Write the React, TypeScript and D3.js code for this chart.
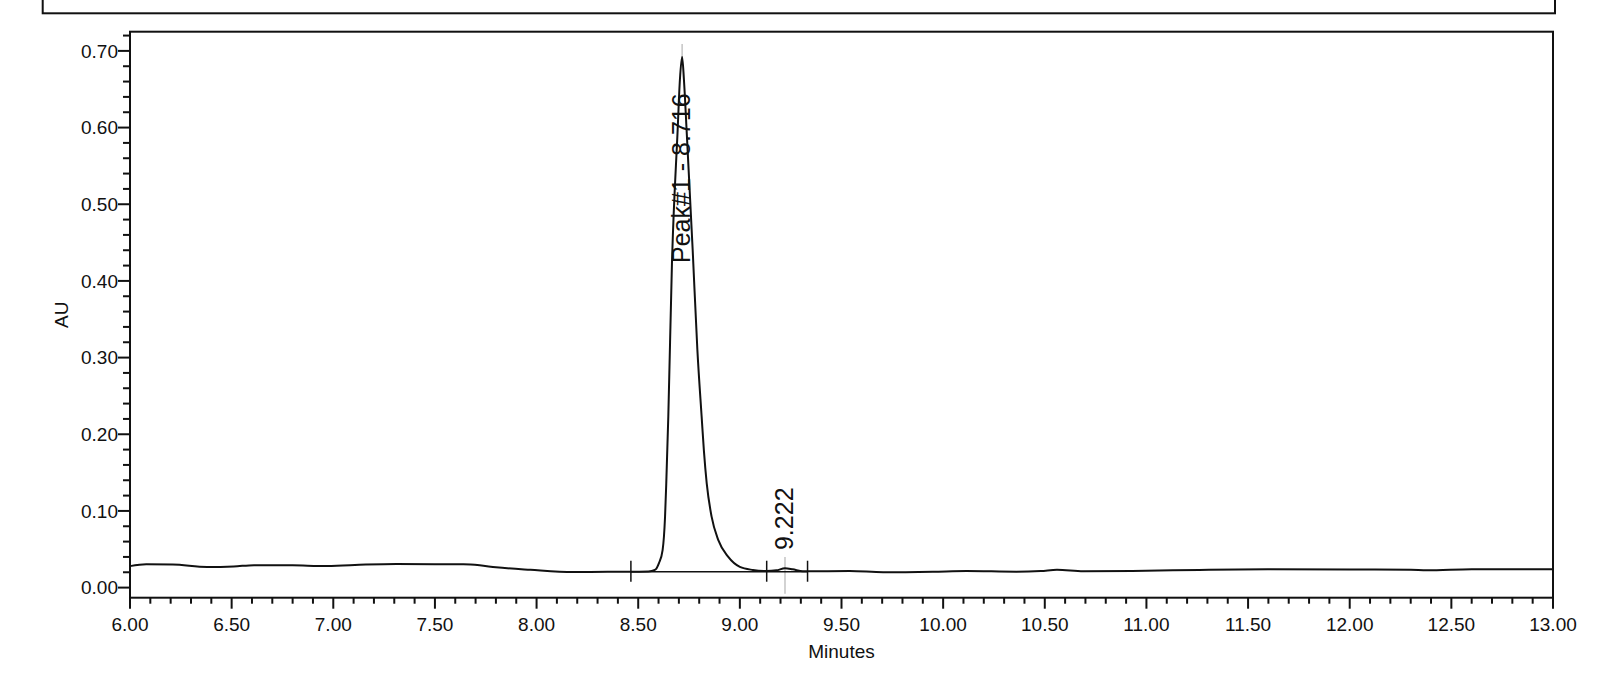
import { useEffect, useRef } from 'react';
import * as d3 from 'd3';

// chromatogram trace (minutes, AU)
const traceTimes = [
  6.0, 6.08, 6.21, 6.38, 6.51, 6.61, 6.8, 6.97, 7.16, 7.31, 7.5, 7.64, 7.72, 7.8, 7.97, 8.18, 8.35,
  8.46, 8.55, 8.582, 8.602, 8.62, 8.632, 8.638, 8.648, 8.666, 8.694, 8.705, 8.716, 8.725, 8.738,
  8.768, 8.791, 8.812, 8.823, 8.837, 8.861, 8.894, 8.943, 9.0, 9.064, 9.13, 9.18, 9.222, 9.26,
  9.31, 9.4, 9.54, 9.705, 9.95, 10.115, 10.36, 10.48, 10.56, 10.69, 10.93, 11.26, 11.6, 12.0,
  12.3, 12.38, 12.6, 13.0
];
const traceValues = [
  0.028, 0.0303, 0.03, 0.0269, 0.0276, 0.0293, 0.029, 0.0281, 0.03, 0.0307, 0.0306, 0.0303, 0.029,
  0.0265, 0.0232, 0.0203, 0.0207, 0.0207, 0.021, 0.023, 0.032, 0.049, 0.0925, 0.136, 0.223, 0.423,
  0.597, 0.662, 0.692, 0.662, 0.597, 0.44, 0.31, 0.223, 0.179, 0.136, 0.0925, 0.062, 0.04, 0.027,
  0.023, 0.0216, 0.0225, 0.0252, 0.0238, 0.0212, 0.0214, 0.0217, 0.02, 0.0207, 0.0217, 0.0207,
  0.0215, 0.0233, 0.0213, 0.0217, 0.023, 0.0238, 0.0236, 0.0232, 0.0225, 0.0238, 0.024
];

// integration baseline and its start/stop markers
const baselineTimes = [8.464, 9.333];
const baselineValues = [0.0207, 0.0207];
const markerTimes = [8.464, 9.132, 9.333];
const markerValue = 0.0207;

// peak labels: retention time, apex line span, label start
const peakTimes = [8.716, 9.222];
const peakLineTops = [0.709, 0.04];
const peakLineBottoms = [0.69, -0.008];
const peakLabelStarts = [0.4234, 0.049];
const peakLabels = ['Peak#1 - 8.716', '9.222'];

const yMajorTicks = [0, 0.1, 0.2, 0.3, 0.4, 0.5, 0.6, 0.7];
const xMajorTicks = [6, 6.5, 7, 7.5, 8, 8.5, 9, 9.5, 10, 10.5, 11, 11.5, 12, 12.5, 13];

const width = 1600;
const height = 694;
const frame = { left: 130, right: 1553, top: 31.7, bottom: 597.7 };
const font = '"Liberation Sans", Arial, sans-serif';

export default function App() {
  const ref = useRef<SVGSVGElement>(null);

  useEffect(() => {
    const svg = d3.select(ref.current);
    svg.selectAll('*').remove();

    const x = d3.scaleLinear().domain([6, 13]).range([frame.left, frame.right]);
    const y = d3.scaleLinear().domain([0, 0.7]).range([587.6, 50.9]);

    // header box, cut off at the top
    svg
      .append('rect')
      .attr('x', 42.7)
      .attr('y', -20)
      .attr('width', 1555 - 42.7)
      .attr('height', 13.3 + 20)
      .attr('fill', 'none')
      .attr('stroke', '#111')
      .attr('stroke-width', 2);

    // plot frame
    svg
      .append('rect')
      .attr('x', frame.left)
      .attr('y', frame.top)
      .attr('width', frame.right - frame.left)
      .attr('height', frame.bottom - frame.top)
      .attr('fill', 'none')
      .attr('stroke', '#111')
      .attr('stroke-width', 2);

    // y ticks
    const yMinor = d3.range(0, 37).map((i) => i * 0.02);
    const yAxis = svg.append('g').attr('stroke', '#111').attr('stroke-width', 2);
    yMinor.forEach((v) => {
      const isMajor = yMajorTicks.some((m) => Math.abs(m - v) < 1e-6);
      yAxis
        .append('line')
        .attr('x1', frame.left - (isMajor ? 12 : 7))
        .attr('x2', frame.left)
        .attr('y1', y(v))
        .attr('y2', y(v));
    });
    svg
      .append('g')
      .selectAll('text')
      .data(yMajorTicks)
      .enter()
      .append('text')
      .attr('x', frame.left - 12)
      .attr('y', (d) => y(d))
      .attr('dy', '0.36em')
      .attr('text-anchor', 'end')
      .attr('font-family', font)
      .attr('font-size', 19)
      .attr('fill', '#111')
      .text((d) => d3.format('.2f')(d));

    // x ticks
    const xMinor = d3.range(0, 71).map((i) => 6 + i * 0.1);
    const xAxis = svg.append('g').attr('stroke', '#111').attr('stroke-width', 2);
    xMinor.forEach((t) => {
      const isMajor = xMajorTicks.some((m) => Math.abs(m - t) < 1e-6);
      xAxis
        .append('line')
        .attr('x1', x(t))
        .attr('x2', x(t))
        .attr('y1', frame.bottom)
        .attr('y2', frame.bottom + (isMajor ? 11 : 6));
    });
    svg
      .append('g')
      .selectAll('text')
      .data(xMajorTicks)
      .enter()
      .append('text')
      .attr('x', (d) => x(d))
      .attr('y', 630.7)
      .attr('text-anchor', 'middle')
      .attr('font-family', font)
      .attr('font-size', 19)
      .attr('fill', '#111')
      .text((d) => d3.format('.2f')(d));

    // axis titles
    svg
      .append('text')
      .attr('x', (frame.left + frame.right) / 2)
      .attr('y', 658)
      .attr('text-anchor', 'middle')
      .attr('font-family', font)
      .attr('font-size', 19)
      .attr('fill', '#111')
      .text('Minutes');
    svg
      .append('text')
      .attr('transform', `translate(68.3, ${(frame.top + frame.bottom) / 2}) rotate(-90)`)
      .attr('text-anchor', 'middle')
      .attr('font-family', font)
      .attr('font-size', 19)
      .attr('fill', '#111')
      .text('AU');

    // peak apex lines
    peakTimes.forEach((t, i) => {
      svg
        .append('line')
        .attr('x1', x(t))
        .attr('x2', x(t))
        .attr('y1', y(peakLineTops[i]))
        .attr('y2', y(peakLineBottoms[i]))
        .attr('stroke', '#c4c4c4')
        .attr('stroke-width', 1.5);
    });

    // baseline and markers
    const baseline = d3
      .line<number>()
      .x((t) => x(t))
      .y((_, i) => y(baselineValues[i]));
    svg
      .append('path')
      .attr('d', baseline(baselineTimes))
      .attr('fill', 'none')
      .attr('stroke', '#111')
      .attr('stroke-width', 1.5);
    markerTimes.forEach((t) => {
      svg
        .append('line')
        .attr('x1', x(t))
        .attr('x2', x(t))
        .attr('y1', y(markerValue) - 11)
        .attr('y2', y(markerValue) + 10)
        .attr('stroke', '#111')
        .attr('stroke-width', 1.5);
    });

    // trace
    const line = d3
      .line<number>()
      .x((t) => x(t))
      .y((_, i) => y(traceValues[i]))
      .curve(d3.curveMonotoneX);
    svg
      .append('path')
      .attr('d', line(traceTimes))
      .attr('fill', 'none')
      .attr('stroke', '#111')
      .attr('stroke-width', 2);

    // peak labels
    peakTimes.forEach((t, i) => {
      svg
        .append('text')
        .attr('transform', `translate(${x(t) + 8}, ${y(peakLabelStarts[i])}) rotate(-90)`)
        .attr('text-anchor', 'start')
        .attr('font-family', font)
        .attr('font-size', 25)
        .attr('fill', '#111')
        .text(peakLabels[i]);
    });
  }, []);

  return (
    <svg
      ref={ref}
      width={width}
      height={height}
      style={{ position: 'absolute', left: 0, top: 0, background: '#fff' }}
    />
  );
}
